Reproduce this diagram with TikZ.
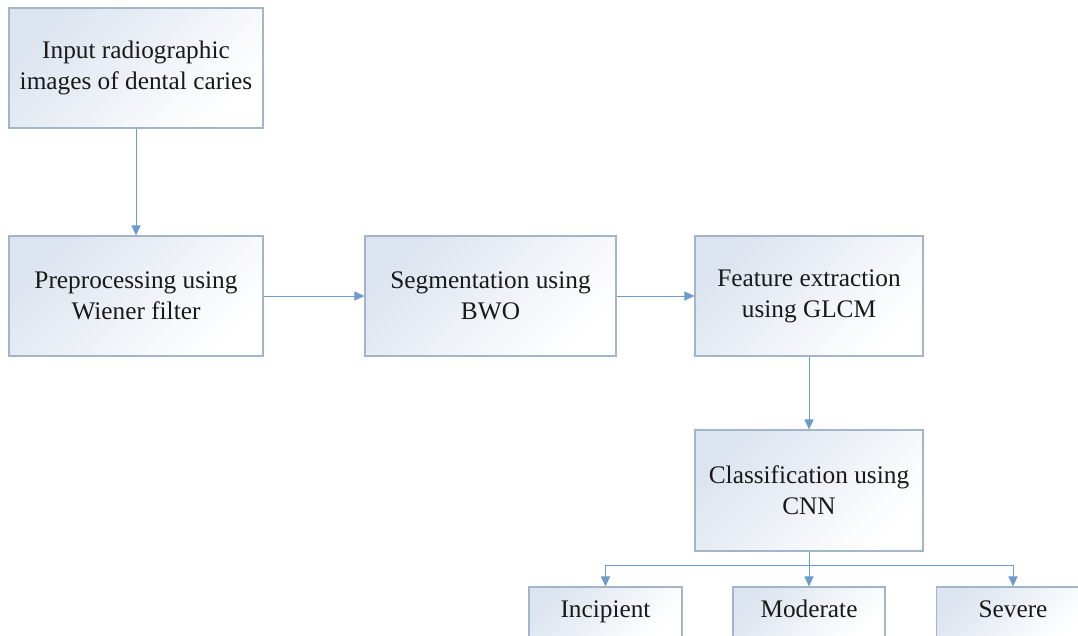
\documentclass[tikz,border=0pt]{standalone}
\usepackage{fontspec}
\setmainfont{Liberation Serif}
\usetikzlibrary{arrows.meta}
\definecolor{boxborder}{HTML}{A3B6C9}
\definecolor{boxfill}{HTML}{DCE4EF}
\definecolor{arrowcol}{HTML}{6D9BCF}
\tikzset{
  stage/.style={draw=boxborder, line width=1.1pt, shading=axis, top color=boxfill, bottom color=white, shading angle=45,
    align=center, inner sep=0pt, font=\fontsize{25.3}{31}\selectfont, text=black!90},
  leaf/.style={stage, minimum height=50pt, text height=1.4em, text depth=0.22em},
  flow/.style={draw=arrowcol, line width=1pt, -{Triangle[length=10pt,width=9pt]}},
  flowline/.style={draw=arrowcol, line width=1pt}
}
\begin{document}
\begin{tikzpicture}[x=1pt,y=-1pt]
\useasboundingbox (0,0) rectangle (1078,635);
\clip (0,0) rectangle (1078,635);
\fill[white] (0,0) rectangle (1078,635);
\node[stage, minimum width=254pt, minimum height=120pt] (input) at (136,68) {Input radiographic\\images of dental caries};
\node[stage, minimum width=254pt, minimum height=120pt] (pre) at (136,296) {Preprocessing using\\Wiener filter};
\node[stage, minimum width=251pt, minimum height=120pt] (seg) at (490.5,296) {Segmentation using\\BWO};
\node[stage, minimum width=228pt, minimum height=120pt] (feat) at (809,296) {Feature extraction\\using GLCM};
\node[stage, minimum width=228pt, minimum height=121pt] (cls) at (809,490.5) {Classification using\\CNN};
\node[leaf, minimum width=153pt] (inc) at (605.5,612) {Incipient};
\node[leaf, minimum width=152pt] (mod) at (809,612) {Moderate};
\node[leaf, minimum width=153pt] (sev) at (1013,612) {Severe};
\coordinate (branch) at (809,565);
\draw[flow] (input) -- (pre);
\draw[flow] (pre) -- (seg);
\draw[flow] (seg) -- (feat);
\draw[flow] (feat) -- (cls);
\draw[flowline] (cls.south) -- (branch);
\draw[flow] (branch) -| (inc.north);
\draw[flow] (branch) -- (mod.north);
\draw[flow] (branch) -| (sev.north);
\end{tikzpicture}
\end{document}
